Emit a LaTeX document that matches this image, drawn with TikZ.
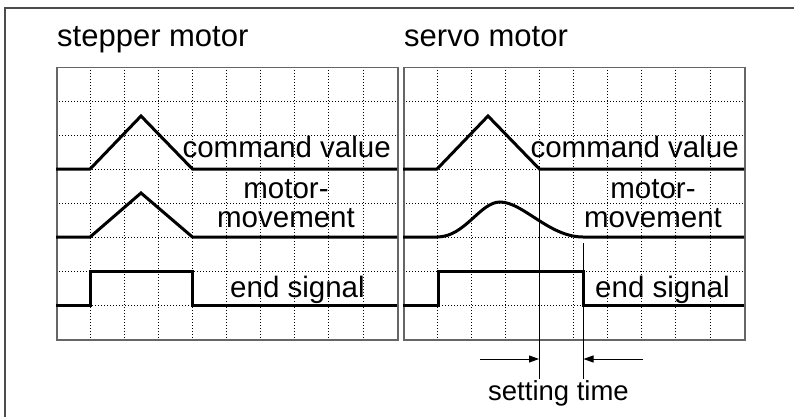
\documentclass[tikz,border=0pt]{standalone}
\usepackage{fontspec}
\setmainfont{Liberation Sans}
\usetikzlibrary{arrows.meta}
\begin{document}
\begin{tikzpicture}[x=1pt,y=-1pt,
  gridline/.style={black, line width=0.8pt, dash pattern=on 1pt off 2pt},
  panel/.style={draw=black!60, line width=1.5pt, minimum width=341pt, minimum height=272pt, anchor=north west, inner sep=0pt},
  signal/.style={line width=3pt, line join=miter},
  marker/.style={line width=1pt},
  dimarrow/.style={line width=1pt, -{Triangle[length=10pt,width=7pt]}},
  titletext/.style={anchor=base west, inner sep=0pt, font=\fontsize{31}{37}\selectfont},
  sigtext/.style={inner sep=0pt, font=\fontsize{29.5}{29}\selectfont},
  frameline/.style={black!70, line width=2pt},
]
\useasboundingbox (0,0) rectangle (794,417);
% outer frame (cropped)
\draw[frameline] (4,8) -- (800,8);
\draw[frameline] (5,7) -- (5,420);
% grids
\foreach \px in {56,403} {
  \foreach \i in {1,...,9} \draw[gridline] ({\px+34.1*\i},67) -- ({\px+34.1*\i},339);
  \foreach \j in {1,...,7} \draw[gridline] (\px,{67+34*\j}) -- ({\px+341},{67+34*\j});
}
\node[panel] (stepgrid) at (56,67) {};
\node[panel] (servogrid) at (403,67) {};
% titles
\node[titletext] (steptitle) at (57,46.5) {stepper motor};
\node[titletext] (servotitle) at (404,46.5) {servo motor};
% stepper signals
\draw[signal] (56,169) -- (90.1,169) -- (141,116) -- (192.4,169) -- (397,169);
\draw[signal] (56,237) -- (90.1,237) -- (141,193) -- (192.4,237) -- (397,237);
\draw[signal] (56,305) -- (90.1,305) -- (90.1,271) -- (192.4,271) -- (192.4,305) -- (397,305);
% servo signals
\draw[signal] (403,169) -- (437.1,169) -- (488,116) -- (539.4,169) -- (744,169);
\draw[signal] (403,237) -- (437.1,237) .. controls (465,237) and (480,202) .. (500,202)
   .. controls (523,202) and (549,237) .. (583,237) -- (744,237);
\draw[signal] (403,305) -- (438,305) -- (438,271) -- (583,271) -- (583,305) -- (744,305);
% labels
\node[sigtext, anchor=base east] (stepcmd) at (391,157) {command value};
\node[sigtext, anchor=base, align=center] (stepmove) at (286,227) {motor-\\movement};
\node[sigtext, anchor=base west] (stepend) at (230,297) {end signal};
\node[sigtext, anchor=base east] (servocmd) at (739,157) {command value};
\node[sigtext, anchor=base, align=center] (servomove) at (653,227) {motor-\\movement};
\node[sigtext, anchor=base west] (servoend) at (595,297) {end signal};
% settling time markers
\coordinate (cmdEnd) at (539.4,169);
\coordinate (cmdLow) at (539.4,379);
\coordinate (moveEnd) at (583,243);
\coordinate (moveLow) at (583,379);
\draw[marker] (cmdEnd) -- (cmdLow);
\draw[marker] (moveEnd) -- (moveLow);
\coordinate (arrLfrom) at (480,359);
\coordinate (arrLto) at (539,359);
\coordinate (arrRfrom) at (643,359);
\coordinate (arrRto) at (583.5,359);
\draw[dimarrow] (arrLfrom) -- (arrLto);
\draw[dimarrow] (arrRfrom) -- (arrRto);
\node[inner sep=0pt, anchor=base west, font=\fontsize{27.5}{30}\selectfont] (settime) at (488,400) {setting time};
\end{tikzpicture}
\end{document}
